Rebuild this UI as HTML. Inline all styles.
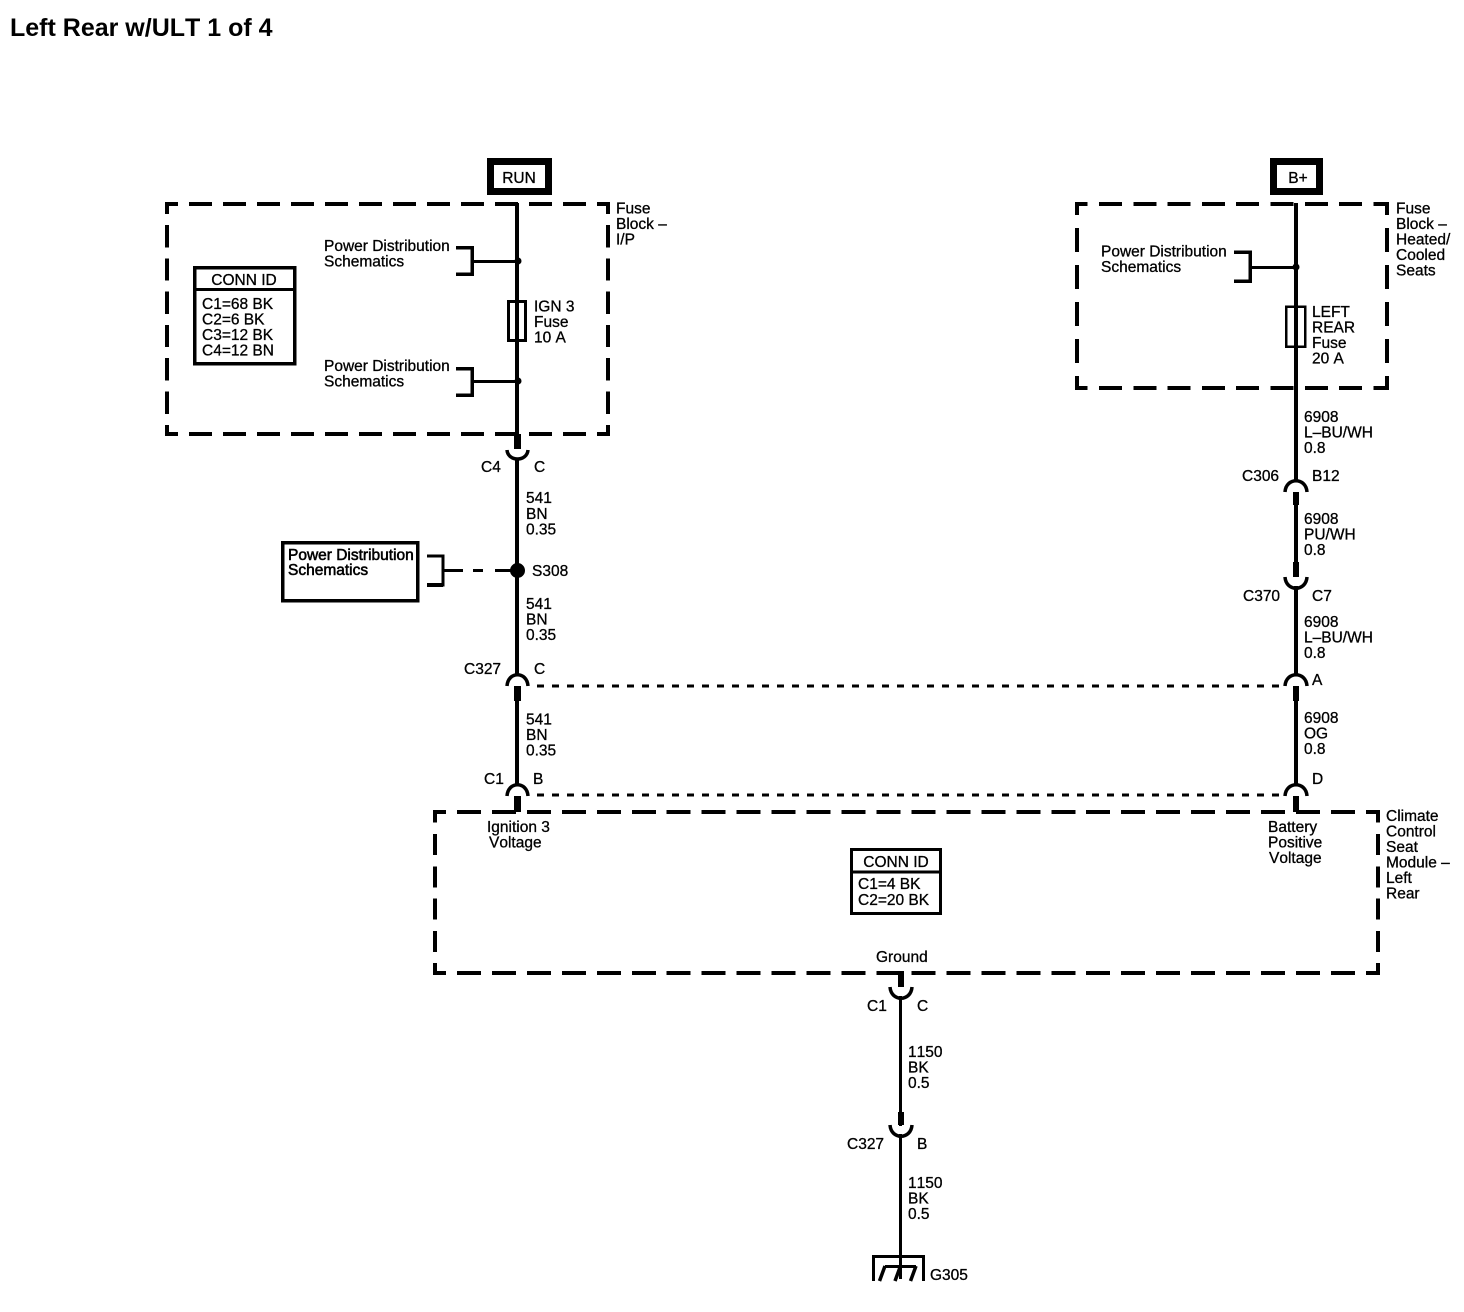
<!DOCTYPE html>
<html><head><meta charset="utf-8"><style>
html,body{margin:0;padding:0;background:#fff}
svg{display:block}
text{font-family:"Liberation Sans",sans-serif;font-size:15.5px;fill:#000;stroke:#000;stroke-width:.3;font-kerning:none}
.t{font-size:25px;font-weight:bold;stroke:none}
.b{stroke-width:.55}
.d{fill:none;stroke:#000;stroke-width:4;shape-rendering:crispEdges}
.h1{stroke-dasharray:23 11;stroke-dashoffset:10}
.v1{stroke-dasharray:22.3 11;stroke-dashoffset:10.300}
.h2{stroke-dasharray:23 11.300;stroke-dashoffset:10.300}
.v2{stroke-dasharray:24 13;stroke-dashoffset:11}
.h3{stroke-dasharray:24 10.960;stroke-dashoffset:11}
.v3{stroke-dasharray:21 11.300;stroke-dashoffset:8.300}
.k{fill:none;stroke:#000;shape-rendering:crispEdges}
.a{fill:none;stroke:#000;stroke-width:3.500}
</style></head><body>
<svg width="1464" height="1312" viewBox="0 0 1464 1312" xmlns="http://www.w3.org/2000/svg">
<rect width="1464" height="1312" fill="#fff"/>
<text class="t" x="10" y="36">Left Rear w/ULT 1 of 4</text>

<!-- RUN / B+ boxes -->
<rect class="k" x="490.5" y="161.5" width="58" height="30" stroke-width="7"/>
<text x="519" y="183" text-anchor="middle">RUN</text>
<rect class="k" x="1273.5" y="161.5" width="46" height="30" stroke-width="7"/>
<text x="1298" y="183" text-anchor="middle">B+</text>

<!-- dashed enclosures -->
<path class="d h1" d="M165 204H610"/><path class="d h1" d="M165 434H610"/>
<path class="d v1" d="M167 202V436"/><path class="d v1" d="M608 202V436"/>
<path class="d h2" d="M1075 204H1389"/><path class="d h2" d="M1075 388H1389"/>
<path class="d v2" d="M1077 202V390"/><path class="d v2" d="M1387 202V390"/>
<path class="d h3" d="M433 812H1380"/><path class="d h3" d="M433 973H1380"/>
<path class="d v3" d="M435 810V975"/><path class="d v3" d="M1378 810V975"/>

<!-- main left -->
<path class="k" d="M517 203V449" stroke-width="4"/>
<path class="k" d="M517.500 434V449" stroke-width="7"/>
<path class="k" d="M517 458V675" stroke-width="4"/>
<path class="k" d="M517.500 686V701" stroke-width="7"/>
<path class="k" d="M517 700V785" stroke-width="4"/>
<path class="k" d="M517.500 796V812" stroke-width="7"/>
<path class="a" d="M507 450C508 462 527 462 528 450"/>
<path class="a" d="M507 686C508 671 527 671 528 686"/>
<path class="a" d="M507 796C508 781 527 781 528 796"/>

<!-- fuse left -->
<rect class="k" x="508.500" y="301.500" width="17" height="39" stroke-width="3"/>
<!-- brackets left -->
<path class="k" d="M456 247.500H472V274H456" stroke-width="3.500"/>
<path class="k" d="M472 261.500H517" stroke-width="3"/>
<circle cx="518" cy="261" r="3.500"/>
<path class="k" d="M456 368.500H472V395H456" stroke-width="3.500"/>
<path class="k" d="M472 381.500H517" stroke-width="3"/>
<circle cx="518" cy="381" r="3.500"/>

<!-- conn id left -->
<rect class="k" x="194.500" y="267.500" width="100" height="96" stroke-width="3.500"/>
<path class="k" d="M194 289.500H295" stroke-width="3"/>

<!-- splice -->
<rect class="k" x="282.500" y="542.500" width="135" height="58" stroke-width="3.500"/>
<path class="k" d="M427 556H443V585H427" stroke-width="3"/>
<path class="k" d="M427 585H443" stroke-width="4"/>
<path class="k" d="M443 570.500H463M473 570.500H483M495 570.500H512" stroke-width="3"/>
<circle cx="517.500" cy="570.500" r="7.500"/>

<!-- dotted cross lines -->
<path class="k" d="M537 686H1285" stroke-width="3" stroke-dasharray="7 8"/>
<path class="k" d="M537 795H1285" stroke-width="3" stroke-dasharray="7 8"/>

<!-- main right -->
<path class="k" d="M1296 203V482" stroke-width="4"/>
<path class="k" d="M1296 492V505" stroke-width="6"/>
<path class="k" d="M1296 504V577" stroke-width="4"/>
<path class="k" d="M1296 562V577" stroke-width="6"/>
<path class="k" d="M1296 586V676" stroke-width="4"/>
<path class="k" d="M1296 686V701" stroke-width="6"/>
<path class="k" d="M1296 700V785" stroke-width="4"/>
<path class="k" d="M1296 796V812" stroke-width="6"/>
<path class="a" d="M1285 492C1286 477 1306 477 1307 492"/>
<path class="a" d="M1285 577C1286 592 1306 592 1307 577"/>
<path class="a" d="M1285 686C1286 671 1306 671 1307 686"/>
<path class="a" d="M1285 796C1286 781 1306 781 1307 796"/>
<rect class="k" x="1286" y="306.500" width="19" height="40" stroke-width="2.500"/>
<path class="k" d="M1234 252H1250V281H1234" stroke-width="3.500"/>
<path class="k" d="M1250 267.500H1296" stroke-width="3"/>
<circle cx="1296" cy="267" r="3.500"/>

<!-- conn id 2 -->
<rect class="k" x="851.500" y="849.500" width="89" height="64" stroke-width="3"/>
<path class="k" d="M851 872H941" stroke-width="3"/>

<!-- bottom -->
<path class="k" d="M901 971V987" stroke-width="6"/>
<path class="k" d="M900.500 996V1126" stroke-width="3"/>
<path class="k" d="M901 1112V1125" stroke-width="6"/>
<path class="k" d="M900.500 1134V1279" stroke-width="3"/>
<path class="a" d="M890 987C891 1002 911 1002 912 987"/>
<path class="a" d="M890 1125C891 1140 911 1140 912 1125"/>
<path class="k" d="M873.500 1281V1256.500H923.500V1281" stroke-width="3"/>
<path class="k" d="M885 1266.500H916" stroke-width="3"/>
<path class="a" d="M885 1266L879.500 1281M900.500 1266L895 1281M916 1266L910.500 1281" stroke-width="3"/>

<!-- left labels -->
<text x="324" y="251">Power Distribution</text><text x="324" y="266.500">Schematics</text>
<text x="324" y="371">Power Distribution</text><text x="324" y="386.500">Schematics</text>
<text x="616" y="213.500">Fuse</text><text x="616" y="229">Block –</text><text x="616" y="244.500">I/P</text>
<text x="534" y="311.500">IGN 3</text><text x="534" y="327">Fuse</text><text x="534" y="342.500">10 A</text>
<text x="244" y="285" text-anchor="middle">CONN ID</text>
<text x="202" y="309">C1=68 BK</text><text x="202" y="324.500">C2=6 BK</text><text x="202" y="340">C3=12 BK</text><text x="202" y="355.500">C4=12 BN</text>
<text x="481" y="472">C4</text><text x="534" y="472">C</text>
<text x="526" y="503">541</text><text x="526" y="519">BN</text><text x="526" y="534.500">0.35</text>
<text class="b" x="288" y="560">Power Distribution</text><text class="b" x="288" y="575">Schematics</text>
<text x="532" y="576">S308</text>
<text x="526" y="609">541</text><text x="526" y="624.500">BN</text><text x="526" y="640">0.35</text>
<text x="464" y="674">C327</text><text x="534" y="674">C</text>
<text x="526" y="724.500">541</text><text x="526" y="740">BN</text><text x="526" y="755.500">0.35</text>
<text x="484" y="784">C1</text><text x="533" y="784">B</text>
<text x="487" y="832">Ignition 3</text><text x="489" y="847.500">Voltage</text>

<!-- right labels -->
<text x="1101" y="256.500">Power Distribution</text><text x="1101" y="272">Schematics</text>
<text x="1396" y="213.500">Fuse</text><text x="1396" y="229">Block –</text><text x="1396" y="244.500">Heated/</text><text x="1396" y="260">Cooled</text><text x="1396" y="275.500">Seats</text>
<text x="1312" y="317">LEFT</text><text x="1312" y="332.500">REAR</text><text x="1312" y="348">Fuse</text><text x="1312" y="363.500">20 A</text>
<text x="1304" y="422">6908</text><text x="1304" y="437.500">L–BU/WH</text><text x="1304" y="453">0.8</text>
<text x="1242" y="481">C306</text><text x="1312" y="481">B12</text>
<text x="1304" y="524">6908</text><text x="1304" y="539.500">PU/WH</text><text x="1304" y="555">0.8</text>
<text x="1243" y="601">C370</text><text x="1312" y="601">C7</text>
<text x="1304" y="627">6908</text><text x="1304" y="642.500">L–BU/WH</text><text x="1304" y="658">0.8</text>
<text x="1312" y="685">A</text>
<text x="1304" y="723">6908</text><text x="1304" y="738.500">OG</text><text x="1304" y="754">0.8</text>
<text x="1312" y="784">D</text>
<text x="1268" y="832">Battery</text><text x="1268" y="847.500">Positive</text><text x="1269" y="863">Voltage</text>
<text x="1386" y="821">Climate</text><text x="1386" y="836.500">Control</text><text x="1386" y="852">Seat</text><text x="1386" y="867.500">Module –</text><text x="1386" y="883">Left</text><text x="1386" y="898.500">Rear</text>

<!-- bottom labels -->
<text x="896" y="867" text-anchor="middle">CONN ID</text>
<text x="858" y="889">C1=4 BK</text><text x="858" y="905">C2=20 BK</text>
<text x="876" y="962">Ground</text>
<text x="867" y="1011">C1</text><text x="917" y="1011">C</text>
<text x="908" y="1057">1150</text><text x="908" y="1072.500">BK</text><text x="908" y="1088">0.5</text>
<text x="847" y="1149">C327</text><text x="917" y="1149">B</text>
<text x="908" y="1188">1150</text><text x="908" y="1203.500">BK</text><text x="908" y="1219">0.5</text>
<text x="930" y="1280">G305</text>
</svg>
</body></html>
